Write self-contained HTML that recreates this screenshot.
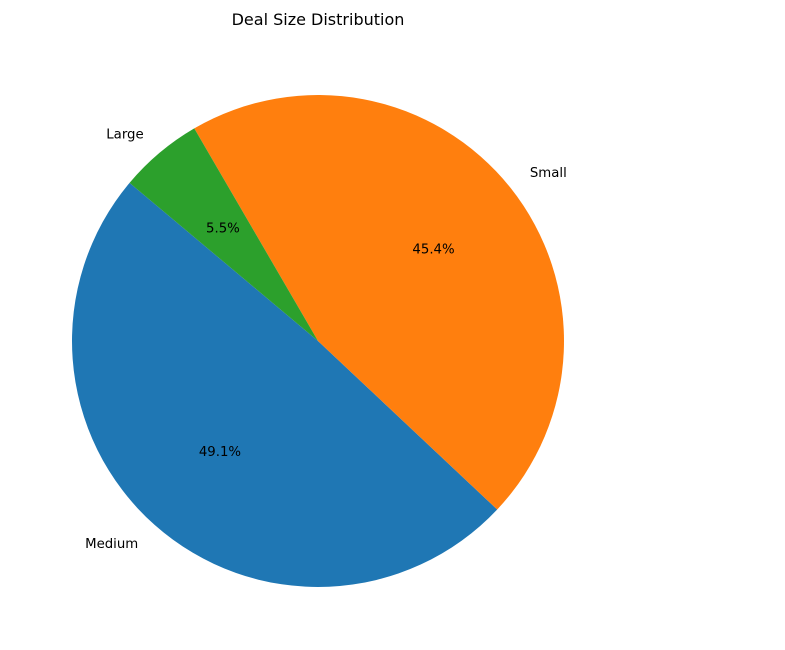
<!DOCTYPE html>
<html>
<head>
<meta charset="utf-8">
<style>
  html,body{margin:0;padding:0;background:#fff;}
  svg{display:block;font-family:"DejaVu Sans","Liberation Sans",sans-serif;}
</style>
</head>
<body>
<svg id="chart" width="785" height="650" viewBox="0 0 785 650">
  <rect width="785" height="650" fill="#fff"></rect>
  <text x="318" y="25" text-anchor="middle" font-size="16" fill="#000">Deal Size Distribution</text>
  <g id="slices"></g>
  <g id="labels"></g>
</svg>
<script>
const categories = ["Medium", "Small", "Large"];
const values = [49.1, 45.4, 5.5];
const colors = ["#1f77b4", "#ff7f0e", "#2ca02c"];
const startAngle = 140;

const cx = 318, cy = 341, r = 246;
const NS = "http://www.w3.org/2000/svg";
const total = values.reduce((a, b) => a + b, 0);
const gS = document.getElementById("slices");
const gL = document.getElementById("labels");
function pt(deg, rad) {
  const a = deg * Math.PI / 180;
  return [cx + rad * Math.cos(a), cy - rad * Math.sin(a)];
}
let ang = startAngle;
values.forEach((v, i) => {
  const sweep = v / total * 360;
  const a0 = ang, a1 = ang + sweep;
  const p0 = pt(a0, r), p1 = pt(a1, r);
  const large = sweep > 180 ? 1 : 0;
  const path = document.createElementNS(NS, "path");
  path.setAttribute("d", `M${cx},${cy} L${p0[0]},${p0[1]} A${r},${r} 0 ${large} 0 ${p1[0]},${p1[1]} Z`);
  path.setAttribute("fill", colors[i]);
  
  
  gS.appendChild(path);

  const mid = (a0 + a1) / 2;
  const lp = pt(mid, r * 1.1);
  const lab = document.createElementNS(NS, "text");
  const c = Math.cos(mid * Math.PI / 180);
  lab.setAttribute("x", lp[0]);
  lab.setAttribute("y", lp[1] + 4.5);
  lab.setAttribute("text-anchor", c >= 0 ? "start" : "end");
  lab.setAttribute("font-size", "13.3");
  lab.textContent = categories[i];
  
  
  gL.appendChild(lab);

  const pp = pt(mid, r * 0.6);
  const pct = document.createElementNS(NS, "text");
  pct.setAttribute("x", pp[0]);
  pct.setAttribute("y", pp[1] + 4.5);
  pct.setAttribute("text-anchor", "middle");
  pct.setAttribute("font-size", "13.3");
  pct.textContent = (v / total * 100).toFixed(1) + "%";
  
  
  gL.appendChild(pct);
  ang = a1;
});
</script>
</body>
</html>
